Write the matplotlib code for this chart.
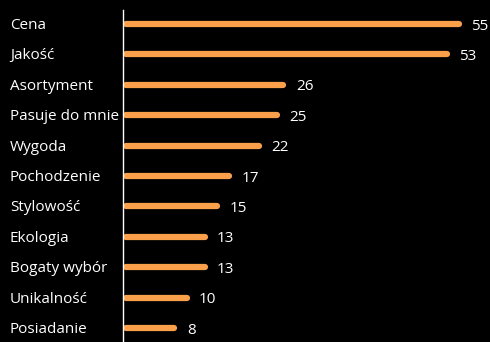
import matplotlib.pyplot as plt

# values
labels = ['Cena', 'Jakość', 'Asortyment', 'Pasuje do mnie', 'Wygoda', 'Pochodzenie',
          'Stylowość', 'Ekologia', 'Bogaty wybór', 'Unikalność', 'Posiadanie']
values = [55, 53, 26, 25, 22, 17, 15, 13, 13, 10, 8]

bar_color = '#FBA04A'
plt.rcParams['font.family'] = ['Open Sans', 'DejaVu Sans']

fig = plt.figure(figsize=(4.9, 3.42), dpi=100, facecolor='black')
ax = fig.add_axes([0, 0, 1, 1])
ax.set_facecolor('black')

for i, (lab, v) in enumerate(zip(labels, values)):
    ax.plot([0, v], [i, i], color=bar_color, linewidth=4.5, solid_capstyle='round')
    ax.annotate(str(v), (v, i), xytext=(9, -1.5), textcoords='offset points',
                ha='left', va='center', color='white', fontsize=11)
    ax.text(-19.2, i + 0.05, lab, ha='left', va='center', color='white', fontsize=11)

ax.axvline(-0.5, ymin=0, ymax=0.97, color='white', linewidth=1)

ax.set_xlim(-20.83, 60.17)
ax.set_ylim(10.46, -0.79)
ax.axis('off')

fig.savefig('out.png', dpi=100, facecolor='black')
